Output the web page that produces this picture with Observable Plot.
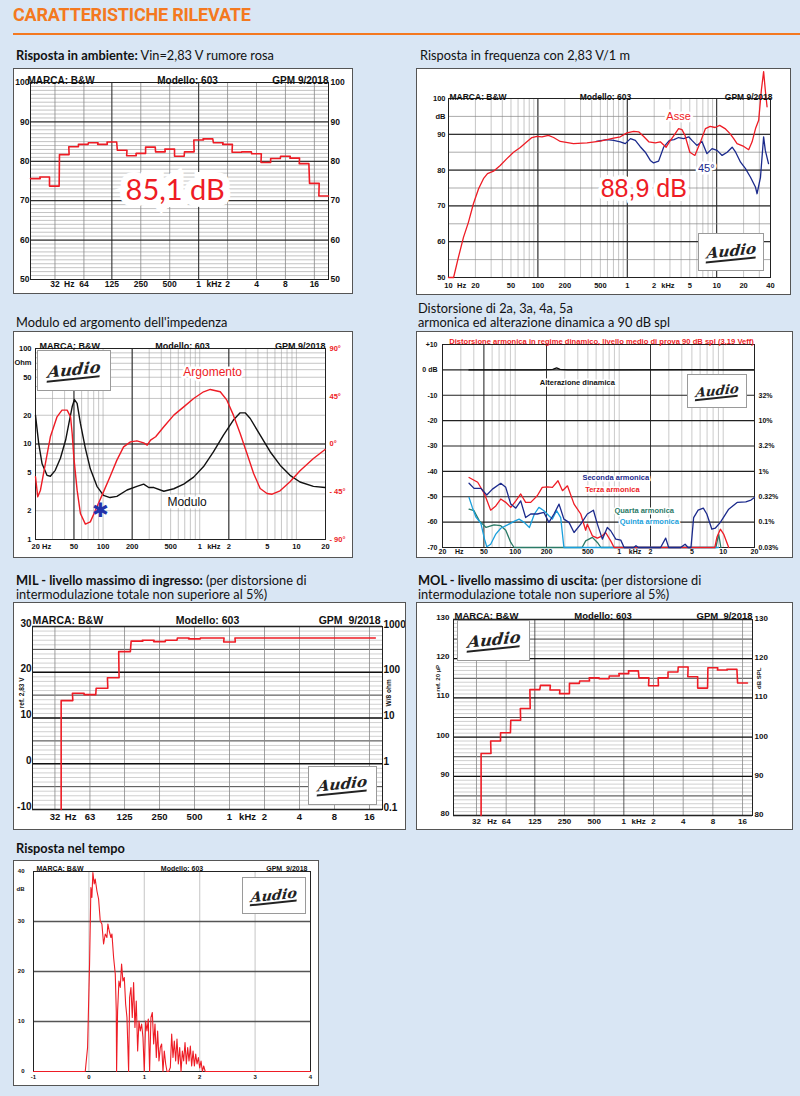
<!DOCTYPE html>
<html><head><meta charset="utf-8">
<script src="https://cdn.jsdelivr.net/npm/d3@7"></script>
<script src="https://cdn.jsdelivr.net/npm/@observablehq/plot@0.6"></script>
<style>
html,body{margin:0;padding:0;background:#d9e6f4;}
#root{position:relative;width:800px;height:1096px;overflow:hidden;background:#d9e6f4;font-family:Lato,"Open Sans",sans-serif;}
.h1{position:absolute;left:13px;top:4px;color:#f47920;font-family:Roboto,sans-serif;font-weight:700;font-size:18px;letter-spacing:-0.2px;white-space:nowrap;}
.rule{position:absolute;left:13px;right:0;top:33px;height:1.5px;background:#f47920;}
.t{position:absolute;font-size:12.8px;color:#111;line-height:14px;white-space:nowrap;}
.t b{font-weight:700}
.box{position:absolute;outline:1.5px solid #555;background:#fff;}
.box svg{display:block;overflow:visible;}
.logo{position:absolute;background:#fff;border:1px solid #9a9a9a;box-sizing:border-box;display:flex;align-items:center;justify-content:center;overflow:hidden;}
.logo span{font-family:"DejaVu Serif",serif;font-style:italic;font-weight:700;color:#222;transform:skewX(-12deg) rotate(-6deg);border-bottom:2px solid #222;line-height:1;}
</style>
</head><body><div id="root"></div>
<script>
// ---------- DATA ----------
// common header
const hdrBrand = "MARCA: B&W", hdrModel = "Modello: 603", hdrDate = "GPM 9/2018", hdrDate2 = "GPM  9/2018";

// 1. Risposta in ambiente (1/3 octave bands)
const ambBands = [20,25,31.5,40,50,63,80,100,125,160,200,250,315,400,500,630,800,1000,1250,1600,2000,2500,3150,4000,5000,6300,8000,10000,12500,16000,20000];
const ambLevel = [75.6,76.0,73.7,81.7,83.7,84.3,84.7,84.3,84.9,82.8,81.4,82.0,83.6,82.4,83.1,81.3,82.4,85.4,85.7,84.7,84.3,82.3,82.4,81.9,79.7,80.7,81.3,80.8,79.4,74.4,71.2];
const ambXTicks = [[32,"32"],[45,"Hz"],[64,"64"],[125,"125"],[250,"250"],[500,"500"],[1000,"1"],[1450,"kHz"],[2000,"2"],[4000,"4"],[8000,"8"],[16000,"16"]];
const ambYTicks = [100,90,80,70,60,50];
const ambValue = [{f:570, v:72.6, text:"85,1 dB"}];

// 2. Risposta in frequenza
const asseF = [10,11.4,12.9,14.7,16.7,19,21.7,24.6,27.3,31.9,37.9,45,53.4,63.5,75.3,85.7,97.6,111,131,150,178,250,354,499,592,703,835,992,1178,1340,1526,1740,2060,2340,2720,2960,3330,3750,4090,4420,5010,5700,6480,7490,8460,9600,10800,12400,14100,15500,16900,20100,22800,24900,27200,29500,31600,33500,35000,36600];
const asseDb = [50,50,55.6,61.2,65.4,70.6,74.8,77.6,79,79.7,81.3,83.2,85,86.3,87.9,89.1,89.4,89.3,89.7,89.1,88,87.4,87.6,88.1,88.5,88.9,89.3,90.4,90.8,90.7,89.4,87.9,87.6,87.9,86.4,87.9,89.7,91.6,91.3,89.7,85,84.1,87.4,91.6,92.2,91.9,92.5,91.6,90.2,88.8,87.4,86.6,85.7,87.9,91.6,93.9,102.3,107.5,102.3,97.7];
const off45F = [450,592,703,835,950,1085,1230,1390,1590,1810,1970,2240,2550,2960,3330,3750,4270,4860,5290,6000,6840,7790,8870,10100,11500,13100,14900,16300,18500,21000,23900,27200,28300,30900,33500,35000,38000];
const off45Db = [88,88.5,88.3,87.9,87.4,88.8,88.3,86.6,85,82.7,82,82.5,86.4,88.3,88.5,89.1,88.8,89.3,88.3,86.9,88,84.6,86,85.5,84.1,85,86.4,85,82.2,80.4,78,75.2,73.4,78,89.3,85.5,81.8];
const frXTicks = [[10,"10"],[14,"Hz"],[20,"20"],[50,"50"],[100,"100"],[200,"200"],[500,"500"],[1000,"1"],[2000,"2"],[2850,"kHz"],[5000,"5"],[10000,"10"],[20000,"20"],[40000,"40"]];
const frYTicks = [[100,"100"],[95,"dB"],[90,"90"],[80,"80"],[70,"70"],[60,"60"],[50,"50"]];
const frLabels = [{f:3750, v:95, text:"Asse", c:"#ee1c25", s:11},{f:7650, v:80.4, text:"45°", c:"#1b2a8c", s:11}];
const frValue = [{f:1530, v:74.8, text:"88,9 dB"}];

// 3. Impedenza
const impF = [20,21.6,23.4,26.3,28.5,32,36.2,41,44.3,47.9,50.6,53.9,58.3,65.6,73.8,86.5,101,118,139,177,224,263,297,336,425,539,683,865,1096,1390,1760,2230,2620,2950,3330,4220,5350,6780,8590,10900,15000,19800];
const impOhm = [20,10.1,6.2,4.7,4.6,5.3,7.1,11,16.4,24.5,29.2,26.6,16.4,9,5.5,3.6,2.9,2.75,2.83,3.3,3.6,3.8,3.5,3.5,3.2,3.4,3.8,4.5,5.8,8.3,12.4,17.8,21.2,21.2,18.5,12.4,8.3,6,4.7,4,3.6,3.5];
const phaseF = [20,21.1,22.5,25.3,28.5,33.4,37.6,42.5,46.1,47.9,49.8,53.9,58.3,65.6,73.8,86.5,101,118,139,163,192,224,263,286,310,350,425,539,683,865,1096,1285,1630,1910,2230,2620,3080,3610,4220,4960,5610,6780,8590,10900,15000,19800];
const phaseDeg = [-30.9,-49.8,-43.5,-18.4,6.8,25.6,31.9,31.9,25.6,9.9,-12.1,-43.5,-65.5,-75.5,-73.4,-59.2,-45.1,-30.9,-15.2,-2.7,2,3,1.1,-1.1,3.6,6.8,16.2,27.2,35,42.9,49.2,51.4,49.2,41.3,27.2,9.9,-9,-27.8,-41.9,-46.6,-47.3,-44.1,-35.6,-25.3,-13.7,-5.2];
const impXTicks = [[23,"20 Hz"],[50,"50"],[100,"100"],[200,"200"],[500,"500"],[1000,"1"],[1400,"kHz"],[2000,"2"],[5000,"5"],[10000,"10"],[20000,"20"]];
const impYTicks = [[100,"100"],[72,"Ohm"],[50,"50"],[20,"20"],[10,"10"],[5,"5"],[2,"2"],[1,"1"]];
const phaseTicks = [[90,"90°"],[45,"45°"],[0,"0°"],[-45,"- 45°"],[-90,"- 90°"]];
const impLabels = [{f:1360, v:56, text:"Argomento", c:"#ee1c25"},{f:740, v:2.47, text:"Modulo", c:"#111"}];
const impMark = [{f:94, v:2.0, text:"✱"}];

// 4. Distorsione
const dynF = [36,60,100,180,230,250,270,320,500,1000,5000,10000,19500];
const dynDb = [0,0,0,0,0.2,0.8,0.2,0,0,0,0.1,0,0];
const h2F = [36,40.2,46.8,53.3,60.4,72.6,81.1,90.7,101.4,113,126,141,163,189,211,236,264,294,329,368,427,494,565,617,689,769,829,927,1036,1115,1380,1450,1530,2500,2800,2990,3900,4300,4600,4900,5200,5740,6440,6960,7780,8380,9390,11300,13700,16500,18500,20000];
const h2Db = [-44.7,-46.7,-46.7,-49.3,-47,-44.7,-46.3,-52.9,-54.5,-51.6,-58.2,-56.8,-56.8,-56.2,-60.1,-56.8,-52.9,-58.8,-60.1,-64.1,-60.8,-56.8,-55.3,-60.8,-66.7,-62.1,-63.4,-66.7,-67.1,-70,-70,-69.3,-70,-70,-66.3,-70,-70,-68.7,-70,-70,-58.2,-55.3,-54.5,-56.8,-62.8,-62.4,-60.1,-54.9,-52.2,-52,-51.3,-50.3];
const h3F = [36,43.6,50.7,58.1,65.1,72.6,81.1,90.7,101.4,113,126,141,163,182,204,228,258,285,318,368,427,476,494,552,617,689,740,829,893,8300,8700,9390,10100,11300];
const h3Db = [-42.4,-44.3,-48.9,-55.3,-53.6,-50.9,-52.2,-54.2,-51.6,-48.9,-52.2,-52.2,-49.6,-46.3,-46.1,-46.3,-43.7,-47.6,-45.7,-52.9,-56.8,-63.2,-60.8,-65.4,-66.3,-65.4,-64.1,-67.4,-70,-70,-66,-62.8,-64.7,-70];
const h4F = [36,40.2,45.2,52.5,62.6,72.6,81.1,90.7,97.6,440,476,552,617,667,8500,9050,9500];
const h4Db = [-54.9,-55.5,-59.5,-62.1,-61.1,-61.4,-63.2,-68,-70,-70,-67.4,-66,-68,-70,-70,-64.7,-70];
const h5F = [36,38.7,41.8,46.8,50.7,53.3,58.1,65.1,72.6,84.4,97.6,109,122,137,153,169,189,211,228,250,274,294,9000];
const h5Db = [-50.3,-54.2,-57.9,-60.5,-66.7,-69.7,-68.7,-64.7,-62.4,-61.1,-59.7,-58.8,-60.1,-62.1,-56.8,-54.2,-55.5,-57.5,-58.8,-55.5,-58.2,-70,-70];
const distXTicks = [[20,"20"],[29,"Hz"],[50,"50"],[100,"100"],[200,"200"],[500,"500"],[1000,"1"],[1420,"kHz"],[2000,"2"],[5000,"5"],[10000,"10"],[20000,"20"]];
const distYTicks = [[10,"+10"],[0,"0 dB"],[-10,"-10"],[-20,"-20"],[-30,"-30"],[-40,"-40"],[-50,"-50"],[-60,"-60"],[-70,"-70"]];
const distPctTicks = [[-10,"32%"],[-20,"10%"],[-30,"3.2%"],[-40,"1%"],[-50,"0.32%"],[-60,"0.1%"],[-70,"0.03%"]];
const distLabels = [
  {f:926, v:-42.4, text:"Seconda armonica", c:"#1b2a8c"},
  {f:860, v:-47, text:"Terza armonica", c:"#ee1c25"},
  {f:1740, v:-55.3, text:"Quarta armonica", c:"#2a7a66"},
  {f:1950, v:-59.7, text:"Quinta armonica", c:"#1a9fdc"},
  {f:396, v:-4.9, text:"Alterazione dinamica", c:"#111"}];
const distTitle = "Distorsione armonica in regime dinamico, livello medio di prova 90 dB spl (3,19 Veff)";

// 5. MIL
const milBands = [40,50,63,80,100,125,160,200,250,315,400,500,630,800,1000,1250,1600,2000,2500,3150,4000,5000,6300,8000,10000,12500,16000];
const milDb = [13.8,15.4,15.1,16.5,18.8,24.5,26.8,27.0,26.7,27.0,27.5,27.3,27.5,27.5,26.6,27.5,27.5,27.5,27.5,27.5,27.5,27.5,27.5,27.5,27.5,27.5,27.5];
const milXTicks = [[31.5,"32"],[43,"Hz"],[63,"63"],[125,"125"],[250,"250"],[500,"500"],[1000,"1"],[1430,"kHz"],[2000,"2"],[4000,"4"],[8000,"8"],[16000,"16"]];
const milYTicks = [[30,"30"],[20,"20"],[10,"10"],[0,"0"],[-10,"-10"]];
const milWTicks = [[30,"1000"],[20,"100"],[10,"10"],[0,"1"],[-10,"0.1"]];

// 6. MOL
const molBands = [40,50,63,80,100,125,160,200,250,315,400,500,630,800,1000,1250,1600,2000,2500,3150,4000,5000,6300,8000,10000,12500,16000];
const molDb = [95.8,99.0,101.1,104.3,107.3,112.1,113.2,112.0,111.1,113.7,114.3,115.1,114.9,115.6,116.2,116.9,115.1,113.1,115.1,116.6,117.9,115.4,112.5,117.7,117.1,117.3,113.8];
const molXTicks = [[32,"32"],[46,"Hz"],[64,"64"],[125,"125"],[250,"250"],[500,"500"],[1000,"1"],[1414,"kHz"],[2000,"2"],[4000,"4"],[8000,"8"],[16000,"16"]];
const molYTicks = [130,120,110,100,90,80];

// 7. Risposta nel tempo
const timeMs = [-1,-0.066,-0.024,0.012,0.036,0.054,0.072,0.096,0.114,0.145,0.175,0.205,0.235,0.265,0.295,0.325,0.343,0.367,0.398,0.416,0.446,0.476,0.494,0.5,0.518,0.542,0.566,0.590,0.614,0.639,0.663,0.687,0.717,0.735,0.759,0.783,0.807,0.831,0.855,0.880,0.904,0.928,0.952,0.976,1.0,1.024,1.048,1.072,1.096,1.120,1.145,1.169,1.193,1.217,1.241,1.265,1.289,1.313,1.337,1.361,1.386,1.41,1.44,1.47,1.494,1.518,1.542,1.566,1.590,1.614,1.639,1.663,1.687,1.711,1.735,1.759,1.783,1.807,1.831,1.855,1.880,1.904,1.928,1.952,1.976,2.0,2.024,2.048,2.072,2.1,4];
const timeDb = [0,0,4.8,21.5,36.8,34.8,39.8,37.5,38.5,36.1,34.5,30.1,29.5,25.5,27.5,26.8,29.5,28.1,26.8,27.5,22.8,19.5,12.1,0,12.1,18.1,16.8,21.5,18.1,18.8,13.5,10.8,0,14.8,16.8,10.8,17.8,8.8,14.1,4.1,10.1,8.1,9.5,6.8,0,10.1,8.1,10.5,0,10.8,11.8,5.5,9.5,2.8,8.1,2.1,4.8,5.5,0,4.1,1.5,0,0,0.8,7.5,2.8,6.1,2.1,6.5,1.5,4.8,0,4.1,2.1,5.8,1.5,4.8,2.1,5.1,1.1,4.1,1.1,3.5,1.5,2.8,0.7,2.1,0,1.1,0,0];
const timeXTicks = [-1,0,1,2,3,4];
const timeYTicks = [[40,"40"],[36.5,"dB"],[30,"30"],[20,"20"],[10,"10"],[0,"0"]];

// ---------- HELPERS ----------
const root = document.getElementById("root");
const RED = "#ee1c25";
const FF = "Liberation Sans, Arial, sans-serif";
const K6 = Math.pow(2, 1/6);
const zip = (xs, ys) => xs.map((x, i) => ({x, y: ys[i]}));
function steps(centers, values, floor) {
  const pts = [];
  if (floor !== undefined) pts.push({x: centers[0] / K6, y: floor});
  centers.forEach((c, i) => { pts.push({x: c / K6, y: values[i]}); pts.push({x: c * K6, y: values[i]}); });
  return pts;
}
function logGrid(lo, hi) {
  const out = [];
  for (let e = Math.floor(Math.log10(lo)); e <= Math.ceil(Math.log10(hi)); e++)
    for (let m = 1; m < 10; m++) { const v = m * Math.pow(10, e); if (v >= lo * 0.999 && v <= hi * 1.001) out.push(v); }
  return out;
}
function addText(html, left, top, cls = "t") {
  const d = document.createElement("div"); d.className = cls; d.innerHTML = html;
  d.style.left = left + "px"; d.style.top = top + "px"; root.append(d); return d;
}
function addBox(left, top, svg) {
  const d = document.createElement("div"); d.className = "box";
  d.style.left = left + "px"; d.style.top = top + "px"; d.append(svg); root.append(d); return d;
}
function addLogo(left, top, w, h, size) {
  const d = document.createElement("div"); d.className = "logo";
  Object.assign(d.style, {left: left + "px", top: top + "px", width: w + "px", height: h + "px"});
  d.innerHTML = `<span style="font-size:${size}px">Audio</span>`; root.append(d);
}
const T = (o) => ({fontFamily: FF, fontWeight: "bold", fill: "#111", ...o});
function xLabels(ticks, dy, size) {
  return Plot.text(ticks, T({x: d => d[0], text: d => d[1], frameAnchor: "bottom", dy, fontSize: size}));
}
function yLabels(ticks, side, dx, size, o = {}) {
  return Plot.text(ticks, T({y: d => d[0], text: d => d[1], frameAnchor: side, textAnchor: side === "left" ? "end" : "start", dx, fontSize: size, ...o}));
}
function sideTitle(text, y, side, dx, size) {
  return Plot.text([text], T({text: d => d, y, frameAnchor: side, textAnchor: "middle", dx, rotate: -90, fontSize: size}));
}
function header(dy, size, left, mid, right, dxMid = 0, dxL = 0, dxR = 0, date = hdrDate) {
  return [
    Plot.text([hdrBrand], T({text: d => d, frameAnchor: "top-left", textAnchor: "start", dy, dx: dxL, fontSize: size})),
    Plot.text([hdrModel], T({text: d => d, frameAnchor: "top", dy, dx: dxMid, fontSize: size})),
    Plot.text([date], T({text: d => d, frameAnchor: "top-right", textAnchor: "end", dy, dx: dxR, fontSize: size}))
  ];
}
const baseStyle = {background: "white", overflow: "visible", fontFamily: FF};

// ---------- PAGE TITLE ----------
addText("CARATTERISTICHE RILEVATE", 13, 4, "h1");
const rl = document.createElement("div"); rl.className = "rule"; root.append(rl);

// ---------- 1. Risposta in ambiente ----------
addText("<b>Risposta in ambiente:</b> Vin=2,83 V rumore rosa", 16, 48);
addBox(14, 69, Plot.plot({
  width: 338, height: 224, marginLeft: 16, marginRight: 24, marginTop: 13, marginBottom: 14,
  x: {type: "log", domain: [17.8, 22450], axis: null}, y: {domain: [50, 100], axis: null},
  style: baseStyle,
  marks: [
    Plot.ruleY(d3.range(50, 101, 1), {stroke: "#9a9a9a", strokeWidth: 0.6}),
    Plot.ruleX(ambXTicks.filter(d => d[1] !== "Hz" && d[1] !== "kHz"), {x: d => d[0], stroke: d => (d[0] === 125 || d[0] === 1000) ? "#333" : "#888", strokeWidth: d => (d[0] === 125 || d[0] === 1000) ? 1.1 : 0.8}),
    Plot.ruleY(ambYTicks, {stroke: "#111", strokeWidth: 1}),
    Plot.frame({stroke: "#222", strokeWidth: 1}),
    Plot.line(steps(ambBands, ambLevel), {x: "x", y: "y", stroke: RED, strokeWidth: 1.6}),
    Plot.text(ambValue, {x: "f", y: "v", text: "text", fill: RED, fontSize: 29, fontFamily: "Lato, sans-serif", stroke: "white", strokeWidth: 14, paintOrder: "stroke", strokeLinejoin: "miter"}),
    yLabels(ambYTicks.map(v => [v, String(v)]), "left", -1, 8.5),
    yLabels(ambYTicks.map(v => [v, String(v)]), "right", 2, 8.5),
    xLabels(ambXTicks, 7, 8.5),
    ...header(-6, 10, 0, 0, 0, 8, -3, 0)
  ]
}));

// ---------- 2. Risposta in frequenza ----------
addText("Risposta in frequenza con 2,83 V/1 m", 420, 48);
addBox(417, 69, Plot.plot({
  width: 373, height: 225, marginLeft: 31, marginRight: 20, marginTop: 29, marginBottom: 17,
  x: {type: "log", domain: [10, 40000], axis: null}, y: {domain: [50, 100], axis: null},
  style: baseStyle,
  marks: [
    Plot.ruleX(logGrid(10, 40000), {stroke: "#a0a0a0", strokeWidth: 0.6}),
    Plot.ruleX([100, 1000, 10000], {stroke: "#222", strokeWidth: 1}),
    Plot.ruleY(d3.range(50, 101, 5), {stroke: "#888", strokeWidth: 0.7}),
    Plot.ruleY(d3.range(50, 101, 10), {stroke: "#111", strokeWidth: 1}),
    Plot.frame({stroke: "#222", strokeWidth: 1}),
    Plot.line(zip(off45F, off45Db), {x: "x", y: "y", stroke: "#1b2a8c", strokeWidth: 1.3}),
    Plot.line(zip(asseF, asseDb), {x: "x", y: "y", stroke: RED, strokeWidth: 1.3}),
    Plot.text(frLabels, {x: "f", y: "v", text: "text", fill: "c", fontSize: 11, fontFamily: FF, stroke: "white", strokeWidth: 5, paintOrder: "stroke"}),
    Plot.text(frValue, {x: "f", y: "v", text: "text", fill: RED, fontSize: 25, fontFamily: FF, stroke: "white", strokeWidth: 8, paintOrder: "stroke"}),
    yLabels(frYTicks, "left", -3, 7.5),
    xLabels(frXTicks, 10, 7.5),
    ...header(-5, 8.5, 0, 0, 0, -4, 1, 2)
  ]
}));
addLogo(698, 233, 66, 38, 15);

// ---------- 3. Impedenza ----------
addText("Modulo ed argomento dell'impedenza", 16, 315);
const degToOhm = d => Math.pow(10, 1 + d / 90);
addBox(14, 332, Plot.plot({
  width: 338, height: 225, marginLeft: 21, marginRight: 27, marginTop: 16, marginBottom: 18,
  x: {type: "log", domain: [20, 20000], axis: null}, y: {type: "log", domain: [1, 100], axis: null},
  style: baseStyle,
  marks: [
    Plot.ruleX(logGrid(20, 20000), {stroke: "#a0a0a0", strokeWidth: 0.6}),
    Plot.ruleY(logGrid(1, 100), {stroke: "#a0a0a0", strokeWidth: 0.6}),
    Plot.ruleX([50, 200, 2000], {stroke: "#222", strokeWidth: 1}),
    Plot.ruleY([10], {stroke: "#111", strokeWidth: 1.2}),
    Plot.frame({stroke: "#222", strokeWidth: 1}),
    Plot.line(zip(impF, impOhm), {x: "x", y: "y", stroke: "#111", strokeWidth: 1.4}),
    Plot.line(zip(phaseF, phaseDeg), {x: "x", y: d => degToOhm(d.y), stroke: RED, strokeWidth: 1.4}),
    Plot.text(impLabels, {x: "f", y: "v", text: "text", fill: "c", fontSize: 12, fontFamily: FF, stroke: "white", strokeWidth: 5, paintOrder: "stroke"}),
    Plot.text(impMark, {x: "f", y: "v", text: "text", fill: "#2233aa", fontSize: 20, fontFamily: "DejaVu Sans"}),
    yLabels(impYTicks, "left", -4, 7.5),
    Plot.text(phaseTicks, T({y: d => degToOhm(d[0]), text: d => d[1], frameAnchor: "right", textAnchor: "start", dx: 4, fontSize: 7.5, fill: RED})),
    xLabels(impXTicks, 9, 7.5),
    ...header(-6, 9, 0, 0, 0, 2, 4, 0)
  ]
}));
addLogo(37, 350, 74, 41, 16);

// ---------- 4. Distorsione ----------
addText("Distorsione di 2a, 3a, 4a, 5a<br>armonica ed alterazione dinamica a 90 dB spl", 418, 301);
addBox(417, 332, Plot.plot({
  width: 375, height: 225, marginLeft: 25, marginRight: 38, marginTop: 12, marginBottom: 10,
  x: {type: "log", domain: [20, 20000], axis: null}, y: {domain: [-70, 10], axis: null},
  style: baseStyle,
  marks: [
    Plot.ruleX(logGrid(20, 20000), {stroke: "#a8a8a8", strokeWidth: 0.6}),
    Plot.ruleX([50, 200, 2000], {stroke: "#333", strokeWidth: 1}),
    Plot.ruleY(d3.range(-70, 11, 10), {stroke: "#222", strokeWidth: 1.1}),
    Plot.frame({stroke: "#222", strokeWidth: 1}),
    Plot.line(zip(dynF, dynDb), {x: "x", y: "y", stroke: "#111", strokeWidth: 1.4}),
    Plot.line(zip(h4F, h4Db), {x: "x", y: "y", stroke: "#2a7a66", strokeWidth: 1.3}),
    Plot.line(zip(h5F, h5Db), {x: "x", y: "y", stroke: "#1a9fdc", strokeWidth: 1.3}),
    Plot.line(zip(h3F, h3Db), {x: "x", y: "y", stroke: RED, strokeWidth: 1.3}),
    Plot.line(zip(h2F, h2Db), {x: "x", y: "y", stroke: "#1b2a8c", strokeWidth: 1.3}),
    Plot.text(distLabels, {x: "f", y: "v", text: "text", fill: "c", fontSize: 7.5, fontWeight: "bold", fontFamily: FF, stroke: "white", strokeWidth: 3, paintOrder: "stroke"}),
    Plot.text([distTitle], T({text: d => d, frameAnchor: "top", dy: -6, dx: 3, fontSize: 7.6, fill: RED})),
    yLabels(distYTicks, "left", -5, 7),
    yLabels(distPctTicks, "right", 4, 7),
    xLabels(distXTicks, 6, 7)
  ]
}));
addLogo(687, 374, 60, 34, 13);

// ---------- 5. MIL ----------
addText("<b>MIL - livello massimo di ingresso:</b> (per distorsione di<br>intermodulazione totale non superiore al 5%)", 16, 573);
addBox(14, 603, Plot.plot({
  width: 391, height: 226, marginLeft: 18, marginRight: 23, marginTop: 23, marginBottom: 20,
  x: {type: "log", domain: [20.2, 20700], axis: null}, y: {domain: [-10, 30], axis: null},
  style: baseStyle,
  marks: [
    Plot.ruleY(d3.range(-10, 31, 1), {stroke: "#a0a0a0", strokeWidth: 0.5}),
    Plot.ruleY(d3.range(-5, 30, 10), {stroke: "#444", strokeWidth: 0.9}),
    Plot.ruleX(milXTicks.filter(d => d[1] !== "Hz" && d[1] !== "kHz"), {x: d => d[0], stroke: "#888", strokeWidth: 0.8}),
    Plot.ruleY(d3.range(-10, 31, 10), {stroke: "#111", strokeWidth: 1.3}),
    Plot.frame({stroke: "#222", strokeWidth: 1}),
    Plot.line(steps(milBands, milDb, -10), {x: "x", y: "y", stroke: RED, strokeWidth: 1.6}),
    yLabels(milYTicks, "left", -1, 10, {dy: -3}),
    yLabels(milWTicks, "right", 1, 10, {dy: -2}),
    sideTitle("ref. 2,83 V", 15.5, "left", -11, 6.5),
    sideTitle("W/8 ohm", 15.5, "right", 6, 6.5),
    xLabels(milXTicks, 10, 9.5),
    ...header(-10, 10.5, 0, 0, 0, 0, 0, -2, hdrDate2)
  ]
}));
addLogo(308, 766, 69, 39, 15);

// ---------- 6. MOL ----------
addText("<b>MOL - livello massimo di uscita:</b> (per distorsione di<br>intermodulazione totale non superiore al 5%)", 418, 573);
addBox(417, 603, Plot.plot({
  width: 375, height: 226, marginLeft: 36, marginRight: 40, marginTop: 16, marginBottom: 14,
  x: {type: "log", domain: [18.7, 20200], axis: null}, y: {domain: [80, 130], axis: null},
  style: baseStyle,
  marks: [
    Plot.ruleY(d3.range(80, 131, 1), {stroke: "#a0a0a0", strokeWidth: 0.5}),
    Plot.ruleY(d3.range(85, 130, 10), {stroke: "#444", strokeWidth: 0.9}),
    Plot.ruleX(molXTicks.filter(d => d[1] !== "Hz" && d[1] !== "kHz"), {x: d => d[0], stroke: d => (d[0] === 125 || d[0] === 1000) ? "#333" : "#888", strokeWidth: 0.8}),
    Plot.ruleY(molYTicks, {stroke: "#111", strokeWidth: 1.3}),
    Plot.frame({stroke: "#222", strokeWidth: 1}),
    Plot.line(steps(molBands, molDb, 80), {x: "x", y: "y", stroke: RED, strokeWidth: 1.6}),
    yLabels(molYTicks.map(v => [v, String(v)]), "left", -4, 8, {dy: -2}),
    yLabels(molYTicks.map(v => [v, String(v)]), "right", 2, 8, {dy: -1}),
    sideTitle("ref. 20 µP", 115, "left", -15, 6),
    sideTitle("dB SPL", 115, "right", 7, 6),
    xLabels(molXTicks, 8, 8),
    ...header(-7, 9.5, 0, 0, 0, 0, 1, 0, hdrDate2)
  ]
}));
addLogo(457, 620, 73, 41, 16);

// ---------- 7. Risposta nel tempo ----------
addText("<b>Risposta nel tempo</b>", 16, 841);
addBox(14, 861, Plot.plot({
  width: 304, height: 224, marginLeft: 19, marginRight: 8, marginTop: 10, marginBottom: 14,
  x: {domain: [-1, 4], axis: null}, y: {domain: [0, 40], axis: null},
  style: baseStyle,
  marks: [
    Plot.ruleX([0, 1, 2, 3], {stroke: "#cfcfcf", strokeWidth: 1.2}),
    Plot.ruleY([10, 20, 30], {stroke: "#555", strokeWidth: 1.4}),
    Plot.frame({stroke: "#222", strokeWidth: 1}),
    Plot.line(zip(timeMs, timeDb), {x: "x", y: "y", stroke: RED, strokeWidth: 1.1}),
    yLabels(timeYTicks, "left", -9, 6),
    xLabels(timeXTicks.map(v => [v, String(v)]), 7, 6),
    ...header(-5, 7, 0, 0, 0, 10, 3, -3, hdrDate2)
  ]
}));
addLogo(242, 877, 64, 37, 14);
</script>
</body></html>
